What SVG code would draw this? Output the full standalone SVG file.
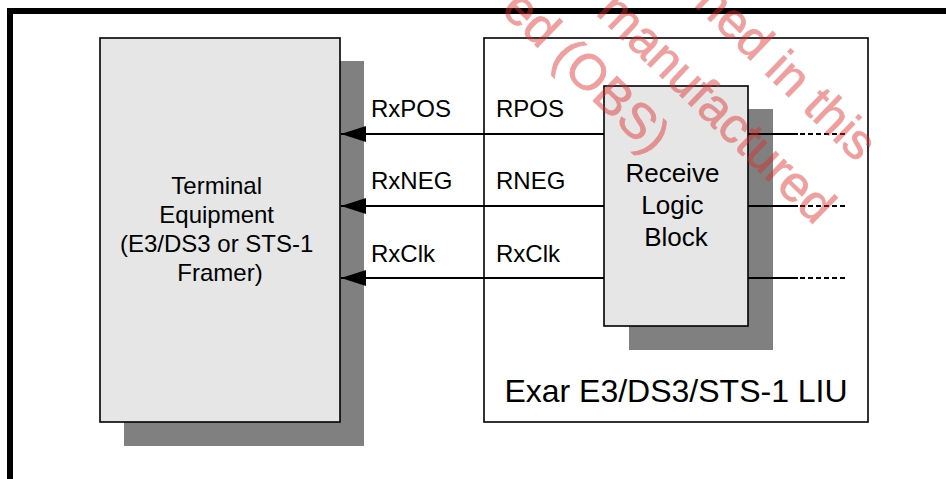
<svg xmlns="http://www.w3.org/2000/svg" width="946" height="479" viewBox="0 0 946 479">
<defs>
<style>
.box{fill:#e6e6e6;stroke:#000;stroke-width:1.6}
.shadow{fill:#808080}
.frame{fill:#fff;stroke:#000;stroke-width:1.6}
.t{font-family:"Liberation Sans",Arial,sans-serif;fill:#000}
.sig{stroke:#000;stroke-width:1.8;fill:none}
.dash{stroke:#000;stroke-width:1.8;fill:none;stroke-dasharray:5 3}
.wm{font-family:"Liberation Sans",Arial,sans-serif;font-size:50px;fill:#de2c2c;stroke:#de2c2c;stroke-width:0.8;opacity:0.45}
</style>
<marker id="arr" markerWidth="25" markerHeight="16" refX="25" refY="8" orient="auto" markerUnits="userSpaceOnUse">
<path d="M0,0 L25,8 L0,16 Z" fill="#000"/>
</marker>
</defs>
<rect width="946" height="479" fill="#fff"/>
<path d="M10,479 V11 H946" fill="none" stroke="#000" stroke-width="6"/>

<g id="terminal">
<rect class="shadow" x="124" y="61" width="240" height="385"/>
<rect class="box" x="100" y="38" width="240" height="384"/>
<text class="t" font-size="24" text-anchor="middle" x="220">
<tspan x="220" y="194">Terminal</tspan>
<tspan x="220" y="223">Equipment</tspan>
<tspan x="220" y="252">(E3/DS3 or STS-1</tspan>
<tspan x="220" y="281">Framer)</tspan>
</text>
</g>

<g id="liu">
<rect class="frame" x="484" y="38" width="384" height="384"/>
<text class="t" font-size="32" text-anchor="middle" x="676" y="402">Exar E3/DS3/STS-1 LIU</text>
</g>

<g id="receive">
<rect class="shadow" x="629" y="109" width="144" height="241"/>
<rect class="box" x="604" y="86" width="144" height="240"/>
<text class="t" font-size="26" text-anchor="middle">
<tspan x="676" y="182">Receive</tspan>
<tspan x="676" y="214">Logic</tspan>
<tspan x="676" y="246">Block</tspan>
</text>
</g>

<g id="connectors">
<line class="sig" x1="604" y1="134" x2="341" y2="134" marker-end="url(#arr)"/>
<line class="sig" x1="604" y1="206" x2="341" y2="206" marker-end="url(#arr)"/>
<line class="sig" x1="604" y1="278" x2="341" y2="278" marker-end="url(#arr)"/>
<line class="sig" x1="748" y1="134" x2="798" y2="134"/>
<line class="sig" x1="748" y1="206" x2="798" y2="206"/>
<line class="sig" x1="748" y1="278" x2="798" y2="278"/>
<line class="dash" x1="800" y1="134" x2="846" y2="134"/>
<line class="dash" x1="800" y1="206" x2="846" y2="206"/>
<line class="dash" x1="800" y1="278" x2="846" y2="278"/>
</g>

<g id="labels" class="t" font-size="24">
<text x="371" y="117">RxPOS</text>
<text x="371" y="189">RxNEG</text>
<text x="371" y="262">RxClk</text>
<text x="496" y="117">RPOS</text>
<text x="496" y="189">RNEG</text>
<text x="496" y="262">RxClk</text>
</g>

<g id="watermark" class="wm" text-anchor="end">
<text transform="translate(857,163) rotate(44)">ned in this</text>
<text transform="translate(815,226) rotate(44)">manufactured</text>
<text transform="translate(650,156) rotate(44)">ed (OBS)</text>
</g>
</svg>
